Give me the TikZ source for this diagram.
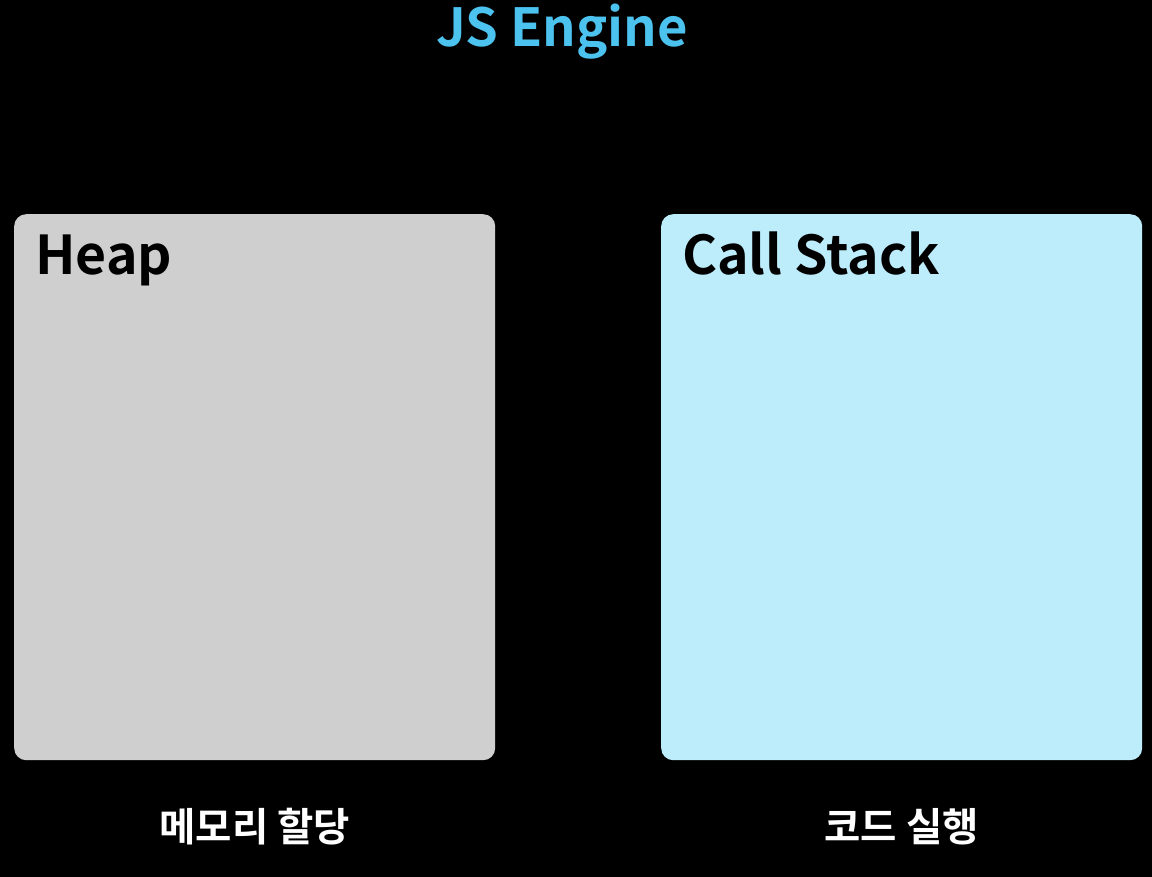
\documentclass[tikz,border=0pt]{standalone}
\usepackage{fontspec}
\setmainfont{Noto Sans CJK KR}[BoldFont={Noto Sans CJK KR Bold}]
\definecolor{titleblue}{HTML}{4CC3EF}
\definecolor{heapgray}{HTML}{D0CFD0}
\definecolor{stackblue}{HTML}{BDEDFB}
\tikzset{
    box/.style={rounded corners=12pt, anchor=north west, minimum width=481pt, minimum height=546pt, inner sep=0pt},
    boxname/.style={anchor=base west, font=\bfseries\fontsize{53.5}{60}\selectfont, text=black, inner sep=0pt},
    caption/.style={anchor=base, font=\bfseries\fontsize{39.5}{44}\selectfont, text=white, inner sep=0pt}
}
\begin{document}
\begin{tikzpicture}[x=1pt,y=-1pt]
            \fill [black] (0,0) rectangle (1152,877);
            \useasboundingbox (0,0) rectangle (1152,877);
            \node [anchor=base, font=\bfseries\fontsize{52.5}{60}\selectfont, text=titleblue, inner sep=0pt] (title) at (562,47) {JS Engine};
            \node [box, fill=heapgray] (heap) at (14,214) {};
            \node [box, fill=stackblue] (callstack) at (661,214) {};
            \node [boxname] (heapname) at (35,275) {Heap};
            \node [boxname] (stackname) at (682,275) {Call Stack};
            \node [caption] (heaplabel) at (heap.south |- 0,841) {메모리 할당};
            \node [caption] (stacklabel) at (callstack.south |- 0,841) {코드 실행};
        \end{tikzpicture}
\end{document}
